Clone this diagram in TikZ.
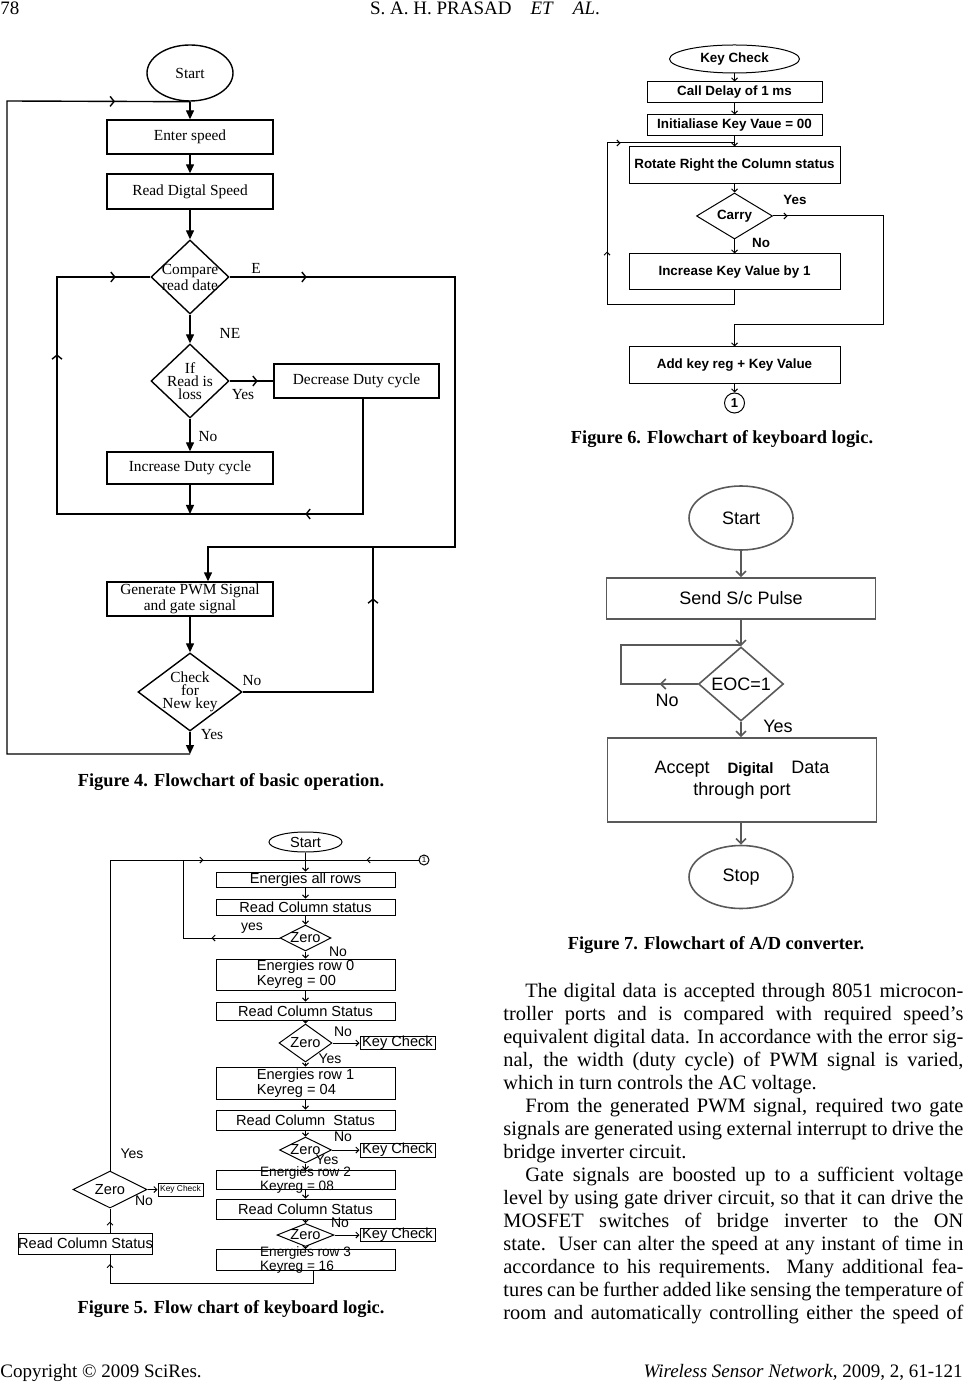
\documentclass[tikz,border=0pt]{standalone}
\usepackage{fontspec}
\setmainfont{Liberation Serif}
\setsansfont{Liberation Sans}
\usepackage{xcolor}
\usepackage{tikz}
\usetikzlibrary{positioning,arrows.meta,shapes.geometric,decorations.markings,calc}
\newlength{\px}
\setlength{\px}{0.5pt}
\definecolor{adline}{gray}{0.35}
\tikzset{
  ln4/.style={line width=0.7pt},
  ln5/.style={line width=0.5pt},
  ln7/.style={line width=0.8pt, draw=adline},
  box4/.style={rectangle, draw, ln4, inner sep=0pt, align=center, font=\fontsize{7.7}{7}\selectfont},
  dia4/.style={diamond, draw, ln4, inner sep=0pt},
  dtxt4/.style={align=center, inner sep=0pt, font=\fontsize{7.7}{6.6}\selectfont},
  lbl4/.style={inner sep=0pt, font=\fontsize{7.7}{8}\selectfont},
  box5/.style={rectangle, draw, ln5, inner sep=0pt, align=center, font=\sffamily\fontsize{7.3}{6}\selectfont},
  dia5/.style={diamond, draw, ln5, inner sep=0pt},
  dtxt5/.style={inner sep=0pt, font=\sffamily\fontsize{7.3}{6}\selectfont},
  lbl5/.style={inner sep=0pt, font=\sffamily\fontsize{7}{7}\selectfont},
  box6/.style={rectangle, draw, ln5, inner sep=0pt, align=center, font=\sffamily\bfseries\fontsize{6.7}{7}\selectfont},
  lbl6/.style={inner sep=0pt, font=\sffamily\bfseries\fontsize{6.7}{7}\selectfont},
  box7/.style={rectangle, draw, ln7, inner sep=0pt, align=center, font=\sffamily\fontsize{9}{11}\selectfont},
  lbl7/.style={inner sep=0pt, font=\sffamily\fontsize{9}{10}\selectfont},
  capt/.style={inner sep=0pt, font=\bfseries\fontsize{9.2}{10}\selectfont},
  bodytxt/.style={inner sep=0pt, anchor=base west, font=\fontsize{10.2}{11.45}\selectfont},
  headtxt/.style={inner sep=0pt, font=\fontsize{9.5}{11}\selectfont},
  tri/.style={-{Triangle[length=4.5pt,width=4pt]}},
  chev/.style={postaction={decorate,decoration={markings,mark=at position #1 with {\arrow{>}}}}}
}

\begin{document}
\begin{tikzpicture}[x=0.5pt,y=-0.5pt]
\useasboundingbox (0,0) rectangle (967,1384);

% page head and foot
\node[headtxt, anchor=base west] (pageno) at (0,15) {78};
\node[headtxt, anchor=base] (runhead) at (485,15) {S. A. H. PRASAD\quad\textit{ET}\quad\textit{AL}.};
\node[headtxt, anchor=base west] (copyr) at (0,1377) {Copyright \textcopyright{} 2009 SciRes.};
\node[headtxt, anchor=base east] (journal) at (963,1377) {\textit{Wireless Sensor Network}, 2009, 2, 61-121};

% Figure 4
\begin{scope}[>={Straight Barb[length=2pt,width=5pt]}]
\node[ellipse, draw, ln4, inner sep=0pt, minimum width=86\px, minimum height=56\px, font=\fontsize{7.7}{8}\selectfont] (start) at (190,73) {Start};
\node[box4, minimum width=166\px, minimum height=34\px] (enter) at (190,137) {Enter speed};
\node[box4, minimum width=166\px, minimum height=35\px] (readspd) at (190,191.5) {Read Digtal Speed};
\node[dia4, minimum width=78\px, minimum height=74\px] (cmp) at (190,277) {};
\node[dtxt4] (cmp-t) at (cmp) {Compare\\read date};
\node[dia4, minimum width=78\px, minimum height=74\px] (loss) at (190,381) {};
\node[dtxt4] (loss-t) at (loss) {If\\Read is\\loss};
\node[box4, minimum width=165\px, minimum height=34\px] (decr) at (356.5,381) {Decrease Duty cycle};
\node[box4, minimum width=166\px, minimum height=32\px] (incr) at (190,468) {Increase Duty cycle};
\node[box4, minimum width=166\px, minimum height=34\px] (pwm) at (190,599) {Generate PWM Signal\\and gate signal};
\node[dia4, minimum width=104\px, minimum height=78\px] (newkey) at (190,692) {};
\node[dtxt4] (newkey-t) at (newkey) {Check\\for\\New key};
\coordinate (j4mid) at (190,514);
\coordinate (j4dr) at (363,514);
\coordinate (j4l) at (57,514);
\coordinate (j4lt) at (57,277);
\coordinate (j4e) at (455,277);
\coordinate (j4eb) at (455,547);
\coordinate (j4p) at (208,547);
\coordinate (j4n) at (373,692);
\coordinate (j4nb) at (373,547);
\coordinate (j4y) at (190,754);
\coordinate (j4yl) at (7,754);
\coordinate (j4yt) at (7,101);
\draw[ln4, tri] (start) -- (enter);
\draw[ln4, tri] (enter) -- (readspd);
\draw[ln4, tri] (readspd) -- (cmp);
\draw[ln4, tri] (cmp) -- (loss);
\draw[ln4, chev=14pt] (loss) -- (decr);
\draw[ln4, tri] (loss) -- (incr);
\draw[ln4, tri] (incr) -- (j4mid);
\draw[ln4, chev=86.5pt, chev=290.5pt, chev=358.5pt] (decr.south -| j4dr) -- (j4dr) -- (j4l) -- (j4lt) -- (cmp.west);
\draw[ln4, tri, chev=38.5pt] (cmp.east) -- (j4e) -- (j4eb) -- (j4p) -- (pwm.north -| j4p);
\draw[ln4, tri] (pwm) -- (newkey);
\draw[ln4, chev=112pt] (newkey.east) -- (j4n) -- (j4nb);
\draw[ln4, tri] (newkey) -- (j4y);
\draw[ln4, chev=472pt] (j4y) -- (j4yl) -- (j4yt) -- (start.south);
\node[lbl4] (lbl-e) at (256,268) {E};
\node[lbl4] (lbl-ne) at (230,333) {NE};
\node[lbl4] (lbl-y1) at (243,395) {Yes};
\node[lbl4] (lbl-n1) at (208,437) {No};
\node[lbl4] (lbl-n2) at (252,681) {No};
\node[lbl4] (lbl-y2) at (212,735) {Yes};
\end{scope}
\node[capt] (cap4) at (231,782) {Figure 4. Flowchart of basic operation.};

% Figure 5
\begin{scope}[>={Straight Barb[length=1.5pt,width=3pt]}]
\node[ellipse, draw, ln5, inner sep=0pt, minimum width=73\px, minimum height=20\px, font=\sffamily\fontsize{7.3}{7}\selectfont] (kstart) at (305.5,842) {Start};
\node[box5, minimum width=179\px, minimum height=15\px] (allrows) at (305.5,879.5) {Energies all rows};
\node[box5, minimum width=179\px, minimum height=16\px] (rcol0) at (305.5,907) {Read Column status};
\node[dia5, minimum width=51\px, minimum height=26\px] (z1) at (305.5,938) {};
\node[dtxt5] (z1-t) at (z1) {Zero};
\node[box5, align=left, minimum width=179\px, minimum height=31\px] (row0) at (305.5,974.5) {Energies row 0\\Keyreg = 00};
\node[box5, minimum width=179\px, minimum height=18\px] (rcol1) at (305.5,1011) {Read Column Status};
\node[dia5, minimum width=53\px, minimum height=38\px] (z2) at (305.5,1043) {};
\node[dtxt5] (z2-t) at (z2) {Zero};
\node[box5, minimum width=75\px, minimum height=13\px] (kc2) at (397.5,1043) {Key Check};
\node[box5, align=left, minimum width=179\px, minimum height=32\px] (row1) at (305.5,1083) {Energies row 1\\Keyreg = 04};
\node[box5, minimum width=179\px, minimum height=20\px] (rcol2) at (305.5,1120) {Read Column\ \ Status};
\node[dia5, minimum width=52\px, minimum height=26\px] (z3) at (305.5,1150) {};
\node[dtxt5] (z3-t) at (z3) {Zero};
\node[box5, minimum width=75\px, minimum height=14\px] (kc3) at (397.5,1150) {Key Check};
\node[box5, align=left, inner ysep=-2pt, minimum width=179\px, minimum height=19\px, font=\sffamily\fontsize{6.8}{5.2}\selectfont] (row2) at (305.5,1180) {Energies row 2\\Keyreg = 08};
\node[box5, minimum width=179\px, minimum height=20\px] (rcol3) at (305.5,1209) {Read Column Status};
\node[dia5, minimum width=57\px, minimum height=23\px] (z4) at (305.5,1235) {};
\node[dtxt5] (z4-t) at (z4) {Zero};
\node[box5, minimum width=75\px, minimum height=13\px] (kc4) at (397.5,1235) {Key Check};
\node[box5, align=left, inner ysep=-1.5pt, minimum width=179\px, minimum height=21\px, font=\sffamily\fontsize{6.8}{5.4}\selectfont] (row3) at (305.5,1260) {Energies row 3\\Keyreg = 16};
\node[box5, minimum width=123\px, minimum height=21\px] (rcol4) at (85.5,1243.5) {Read Column Status};
\node[dia5, minimum width=74\px, minimum height=37\px] (z5) at (110,1189.5) {};
\node[dtxt5] (z5-t) at (z5) {Zero};
\node[box5, minimum width=45\px, minimum height=13\px, font=\sffamily\fontsize{4.2}{5}\selectfont] (kc5) at (180.5,1189.5) {Key Check};
\node[circle, draw, ln5, inner sep=0pt, minimum size=10\px, font=\sffamily\fontsize{4}{4}\selectfont] (conn1) at (424,860) {1};
\coordinate (k5a) at (183,938);
\coordinate (k5b) at (183,860);
\coordinate (k5top) at (305.5,860);
\coordinate (k5l) at (110,860);
\coordinate (k5b1) at (313,1283);
\coordinate (k5b2) at (110,1283);
\draw[ln5, ->] (kstart) -- (allrows);
\draw[ln5, ->] (allrows) -- (rcol0);
\draw[ln5, ->] (rcol0) -- (z1);
\draw[ln5, ->] (z1) -- (row0);
\draw[ln5, ->] (row0) -- (rcol1);
\draw[ln5, ->] (rcol1) -- (z2);
\draw[ln5, ->] (z2) -- (row1);
\draw[ln5, ->] (row1) -- (rcol2);
\draw[ln5, ->] (rcol2) -- (z3);
\draw[ln5, ->] (z3) -- (row2);
\draw[ln5, ->] (row2) -- (rcol3);
\draw[ln5, ->] (rcol3) -- (z4);
\draw[ln5, ->] (z4) -- (row3);
\draw[ln5, ->] (z2) -- (kc2);
\draw[ln5, ->] (z3) -- (kc3);
\draw[ln5, ->] (z4) -- (kc4);
\draw[ln5, ->] (z5) -- (kc5);
\draw[ln5, chev=34pt] (z1.west) -- (k5a) -- (k5b);
\draw[ln5, chev=202pt] (z5.north) -- (k5l) -- (k5top);
\draw[ln5, chev=26pt] (conn1.west) -- (k5top);
\draw[ln5, chev=117pt] (row3.south -| k5b1) -- (k5b1) -- (k5b2) -- (rcol4.south -| k5b2);
\draw[ln5, chev=5.5pt] (rcol4.north -| z5) -- (z5.south);
\node[lbl5] (lbl5-y0) at (252,928) {yes};
\node[lbl5] (lbl5-n0) at (338,952) {No};
\node[lbl5] (lbl5-n1) at (343,1032) {No};
\node[lbl5] (lbl5-y1) at (330,1059) {Yes};
\node[lbl5] (lbl5-n2) at (343,1137) {No};
\node[lbl5] (lbl5-y2) at (327,1160) {Yes};
\node[lbl5] (lbl5-n3) at (340,1223) {No};
\node[lbl5] (lbl5-y3) at (132,1154) {Yes};
\node[lbl5] (lbl5-n4) at (144,1201) {No};
\end{scope}
\node[capt] (cap5) at (231,1309) {Figure 5. Flow chart of keyboard logic.};

% Figure 6
\begin{scope}[>={Straight Barb[length=1.5pt,width=3pt]}]
\node[ellipse, draw, ln5, inner sep=0pt, minimum width=130\px, minimum height=28\px, font=\sffamily\bfseries\fontsize{6.7}{7}\selectfont] (kcheck) at (734.5,59) {Key Check};
\node[box6, minimum width=175\px, minimum height=21\px] (delay) at (734.5,92.5) {Call Delay of 1 ms};
\node[box6, minimum width=175\px, minimum height=21\px] (init) at (734.5,125.5) {Initialiase Key Vaue = 00};
\node[box6, minimum width=211\px, minimum height=37\px] (rotate) at (734.5,165.5) {Rotate Right the Column status};
\node[diamond, draw, ln5, inner sep=0pt, minimum width=76\px, minimum height=46\px] (carry) at (734.5,216) {};
\node[lbl6] (carry-t) at (carry) {Carry};
\node[box6, minimum width=211\px, minimum height=36\px] (incval) at (734.5,272) {Increase Key Value by 1};
\node[box6, minimum width=211\px, minimum height=37\px] (addkey) at (734.5,365.5) {Add key reg + Key Value};
\node[circle, draw, ln5, inner sep=0pt, minimum size=20\px, font=\sffamily\bfseries\fontsize{6.5}{7}\selectfont] (conn2) at (734.5,403) {1};
\coordinate (k6a) at (883,216);
\coordinate (k6b) at (883,325);
\coordinate (k6c) at (734.5,325);
\coordinate (k6d) at (734.5,305);
\coordinate (k6e) at (607,305);
\coordinate (k6f) at (607,143);
\coordinate (k6g) at (734.5,143);
\draw[ln5, ->] (kcheck) -- (delay);
\draw[ln5, ->] (delay) -- (init);
\draw[ln5, ->] (init) -- (rotate);
\draw[ln5, ->] (rotate) -- (carry);
\draw[ln5, ->] (carry) -- (incval);
\draw[ln5, ->] (addkey) -- (conn2);
\draw[ln5, ->, chev=7.25pt] (carry.east) -- (k6a) -- (k6b) -- (k6c) -- (addkey.north);
\draw[ln5, chev=97.75pt, chev=158.75pt] (incval.south) -- (k6d) -- (k6e) -- (k6f) -- (k6g);
\node[lbl6] (lbl6-y) at (795,200) {Yes};
\node[lbl6] (lbl6-n) at (761,243) {No};
\end{scope}
\node[capt] (cap6) at (722,439) {Figure 6. Flowchart of keyboard logic.};

% Figure 7
\begin{scope}[>={Straight Barb[length=2.5pt,width=5pt]}]
\node[ellipse, draw, ln7, inner sep=0pt, minimum width=104\px, minimum height=64\px, font=\sffamily\fontsize{9}{10}\selectfont] (adstart) at (741,518) {Start};
\node[box7, minimum width=269\px, minimum height=41\px] (sendsc) at (741,598.5) {Send S/c Pulse};
\node[diamond, draw, ln7, inner sep=0pt, minimum width=85\px, minimum height=74\px] (eoc) at (741,684) {};
\node[lbl7] (eoc-t) at (eoc) {EOC=1};
\node[box7, minimum width=269\px, minimum height=84\px] (accept) at (742,780) {Accept\quad{\bfseries\fontsize{7.5}{9}\selectfont Digital}\quad Data\\through port};
\node[ellipse, draw, ln7, inner sep=0pt, minimum width=104\px, minimum height=63\px, font=\sffamily\fontsize{9}{10}\selectfont] (adstop) at (741,877) {Stop};
\coordinate (k7a) at (621,684);
\coordinate (k7b) at (621,645);
\coordinate (k7c) at (741,645);
\draw[ln7, ->] (adstart) -- (sendsc);
\draw[ln7, ->] (sendsc) -- (eoc);
\draw[ln7, chev=19pt] (eoc.west) -- (k7a) -- (k7b) -- (k7c);
\draw[ln7, ->] (eoc) -- (eoc |- accept.north);
\draw[ln7, ->] (accept.south -| adstop) -- (adstop);
\node[lbl7] (lbl7-n) at (667,700) {No};
\node[lbl7] (lbl7-y) at (778,726) {Yes};
\end{scope}
\node[capt] (cap7) at (716,945) {Figure 7. Flowchart of A/D converter.};

% body text
\node[bodytxt] (l01) at (525,997) {\makebox[438\px][s]{The digital data is accepted through 8051 microcon-}};
\node[bodytxt] (l02) at (503,1020) {\makebox[460\px][s]{troller ports and is compared with required speed’s}};
\node[bodytxt] (l03) at (503,1043) {\makebox[460\px][s]{equivalent digital data. In accordance with the error sig-}};
\node[bodytxt] (l04) at (503,1066) {\makebox[460\px][s]{nal, the width (duty cycle) of PWM signal is varied,}};
\node[bodytxt] (l05) at (503,1089) {which in turn controls the AC voltage.};
\node[bodytxt] (l06) at (525,1112) {\makebox[438\px][s]{From the generated PWM signal, required two gate}};
\node[bodytxt] (l07) at (503,1135) {\makebox[460\px][s]{signals are generated using external interrupt to drive the}};
\node[bodytxt] (l08) at (503,1158) {bridge inverter circuit.};
\node[bodytxt] (l09) at (525,1181) {\makebox[438\px][s]{Gate signals are boosted up to a sufficient voltage}};
\node[bodytxt] (l10) at (503,1204) {\makebox[460\px][s]{level by using gate driver circuit, so that it can drive the}};
\node[bodytxt] (l11) at (503,1227) {\makebox[460\px][s]{MOSFET switches of bridge inverter to the ON}};
\node[bodytxt] (l12) at (503,1250) {\makebox[460\px][s]{state.\ \ User can alter the speed at any instant of time in}};
\node[bodytxt] (l13) at (503,1273) {\makebox[460\px][s]{accordance to his requirements.\ \ Many additional fea-}};
\node[bodytxt] (l14) at (503,1296) {\makebox[460\px][s]{tures can be further added like sensing the temperature of}};
\node[bodytxt] (l15) at (503,1319) {\makebox[460\px][s]{room and automatically controlling either the speed of}};
\end{tikzpicture}
\end{document}
